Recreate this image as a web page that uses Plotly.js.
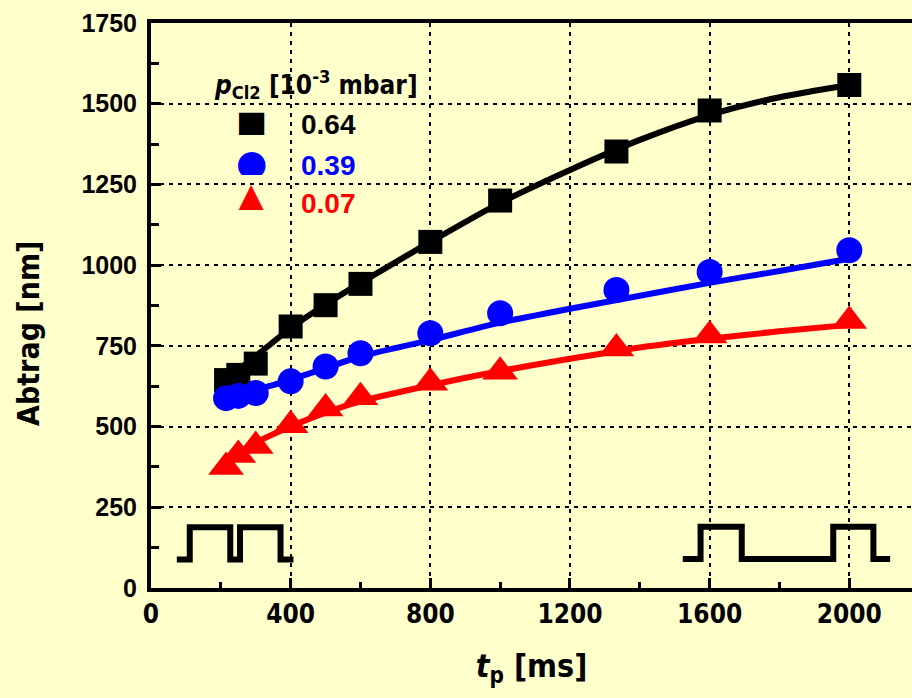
<!DOCTYPE html>
<html>
<head>
<meta charset="utf-8">
<script src="https://cdn.plot.ly/plotly-3.0.1.min.js"></script>
<style>
html, body { margin: 0; padding: 0; background: #FFFFCC; overflow: hidden; }
#chart { width: 912px; height: 698px; }
</style>
</head>
<body>
<div id="chart"></div>
<script>
// ---- data ----
const tPoints = [215, 250, 300, 400, 500, 600, 800, 1000, 1333, 1600, 2000];
const abtrag064 = [644, 660, 695, 810, 876, 942, 1072, 1200, 1352, 1479, 1558];
const abtrag039 = [588, 595, 604, 640, 686, 727, 789, 851, 923, 979, 1046];
const abtrag007 = [375, 412, 440, 504, 556, 591, 636, 670, 742, 782, 827];

const fitT064 = [215, 250, 300, 400, 500, 600, 800, 1000, 1200, 1400, 1600, 1800, 2000];
const fitV064 = [640, 675, 718, 805, 878, 945, 1072, 1193, 1295, 1388, 1465, 1520, 1558];
const fitT039 = [215, 300, 400, 600, 800, 1000, 1200, 1400, 1600, 1800, 2000];
const fitV039 = [589, 614, 645, 717, 768, 822, 865, 905, 945, 982, 1020];
const fitT007 = [215, 250, 300, 400, 500, 600, 800, 1000, 1200, 1400, 1600, 1800, 2000];
const fitV007 = [378, 416, 450, 500, 543, 578, 628, 672, 710, 745, 772, 795, 815];

const pulseLeftT  = [74, 111, 111, 227, 227, 255, 255, 371, 371, 408];
const pulseLeftV  = [88, 88, 188, 188, 88, 88, 188, 188, 88, 88];
const pulseRightT = [1523, 1574, 1574, 1692, 1692, 1954, 1954, 2069, 2069, 2117];
const pulseRightV = [90, 90, 190, 190, 90, 90, 190, 190, 90, 90];

const seriesNames = ['0.64', '0.39', '0.07'];
const seriesColors = ['#000000', '#0000FF', '#FF0000'];
const legendSymbols = ['\u25A0', '\u25CF', '\u25B2'];

const xTickVals = [0, 400, 800, 1200, 1600, 2000];
const yTickVals = [0, 250, 500, 750, 1000, 1250, 1500, 1750];

// ---- traces ----
function fit(t, v, c) {
  return { x: t, y: v, mode: 'lines', line: { color: c, width: 6, shape: 'spline', smoothing: 0.7 },
           hoverinfo: 'skip', showlegend: false };
}
function pts(t, v, c, sym, size, name) {
  return { x: t, y: v, mode: 'markers', name: name,
           marker: { color: c, symbol: sym, size: size, line: { width: 0 } },
           showlegend: false };
}
const traces = [
  { x: pulseLeftT, y: pulseLeftV, mode: 'lines', line: { color: '#000', width: 6 }, hoverinfo: 'skip', showlegend: false },
  { x: pulseRightT, y: pulseRightV, mode: 'lines', line: { color: '#000', width: 6 }, hoverinfo: 'skip', showlegend: false },
  fit(fitT064, fitV064, seriesColors[0]),
  pts(tPoints, abtrag064, seriesColors[0], 'square', 24, seriesNames[0]),
  fit(fitT039, fitV039, seriesColors[1]),
  pts(tPoints, abtrag039, seriesColors[1], 'circle', 26, seriesNames[1]),
  fit(fitT007, fitV007, seriesColors[2]),
  pts(tPoints, abtrag007, seriesColors[2], 'triangle-up', 31, seriesNames[2])
];

// ---- layout ----
const L = 151, T = 23, B = 110;
const plotH = 698 - T - B, plotW = 912 - L;
function px(xPix) { return (xPix - L) / plotW; }
function py(yPix) { return (698 - B - yPix) / plotH; }

const legendYs = [124, 165.3, 203.3];
const symbolYs = [122.5, 162, 197.5];
const symbolSizes = [33, 36, 42];

const narrow = 'Liberation Sans Narrow, DejaVu Sans Condensed, Liberation Sans';
const annotations = [
  { text: '<b>Abtrag [nm]</b>', xref: 'paper', yref: 'paper', x: px(29), y: py(334),
    xanchor: 'center', yanchor: 'middle', textangle: -90, showarrow: false,
    font: { family: narrow, size: 30, color: '#000' } },
  { text: '<b><i>p</i><sub>Cl2</sub> [10<sup>-3</sup> mbar]</b>', xref: 'paper', yref: 'paper',
    x: px(212), y: py(85), xanchor: 'left', yanchor: 'middle', showarrow: false,
    font: { family: narrow, size: 26, color: '#000' } }
];
for (let i = 0; i < 3; i++) {
  annotations.push({ text: '<b>' + seriesNames[i] + '</b>', xref: 'paper', yref: 'paper',
    x: px(299), y: py(legendYs[i]), xanchor: 'left', yanchor: 'middle', showarrow: false,
    font: { family: 'Liberation Sans, Arial', size: 28, color: seriesColors[i] } });
  annotations.push({ text: legendSymbols[i], xref: 'paper', yref: 'paper',
    x: px(251.5), y: py(symbolYs[i]), xanchor: 'center', yanchor: 'middle', showarrow: false,
    height: 26,
    font: { family: 'DejaVu Sans', size: symbolSizes[i], color: seriesColors[i] } });
}

const gridDash = '4px,5px';
const layout = {
  width: 912, height: 698,
  paper_bgcolor: '#FFFFCC', plot_bgcolor: '#FFFFCC',
  margin: { l: L, r: 0, t: T, b: B, pad: 0 },
  showlegend: false,
  hovermode: false,
  xaxis: {
    range: [0, plotW / 0.34915], tickvals: xTickVals, ticktext: xTickVals.map(String),
    ticks: 'inside', ticklen: 10, tickwidth: 3, tickcolor: '#000',
    showline: true, linewidth: 4, linecolor: '#000', mirror: true,
    showgrid: true, gridcolor: '#000', gridwidth: 2, griddash: gridDash,
    zeroline: false,
    minor: { ticks: 'inside', ticklen: 6, tickwidth: 3, tickcolor: '#000', dtick: 200, tick0: 0, showgrid: false },
    tickfont: { family: narrow, size: 26, weight: 'bold', color: '#000' },
    title: { text: '<b><i>t</i><sub>p</sub> [ms]</b>', standoff: 27,
             font: { family: narrow, size: 32, color: '#000' } }
  },
  yaxis: {
    range: [0, 1750], tickvals: yTickVals, ticktext: yTickVals.map(String),
    ticks: 'inside', ticklen: 10, tickwidth: 3, tickcolor: '#000',
    showline: true, linewidth: 4, linecolor: '#000', mirror: true,
    showgrid: true, gridcolor: '#000', gridwidth: 2, griddash: gridDash,
    zeroline: false, ticklabelstandoff: 5,
    minor: { ticks: 'inside', ticklen: 8, tickwidth: 3, tickcolor: '#000', dtick: 125, tick0: 0, showgrid: false },
    tickfont: { family: 'Liberation Sans, Arial', size: 25, weight: 'bold', color: '#000' }
  },
  annotations: annotations
};

Plotly.newPlot('chart', traces, layout, { staticPlot: true, displayModeBar: false });
</script>
</body>
</html>
